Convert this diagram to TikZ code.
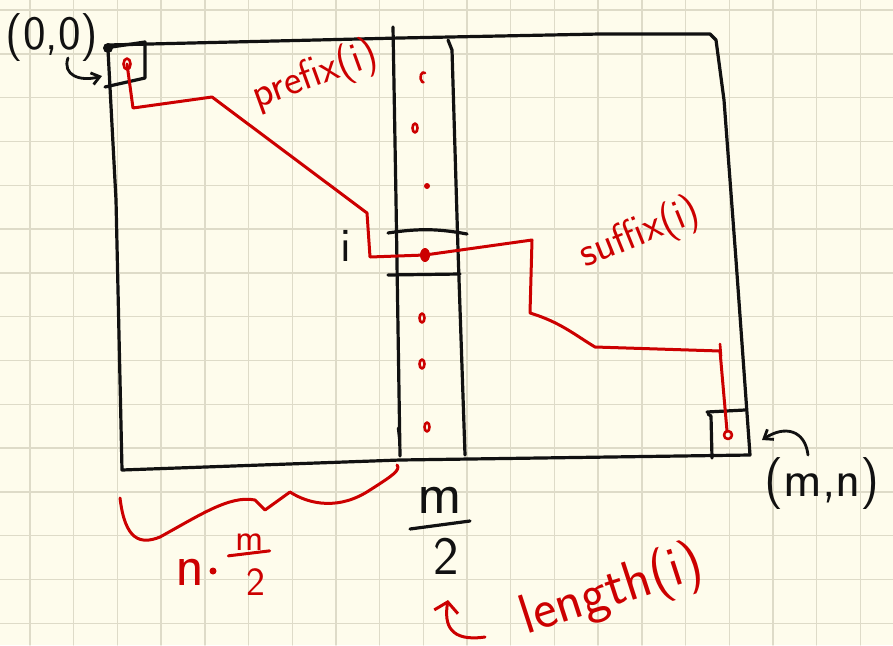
\documentclass[tikz,border=0pt]{standalone}
\usetikzlibrary{arrows.meta,positioning,calc}
\definecolor{inkred}{HTML}{CC0000}
\definecolor{inkblack}{HTML}{111111}
\definecolor{paper}{HTML}{FEFCEC}
\definecolor{gridline}{HTML}{DEDBC8}

\begin{document}
\begin{tikzpicture}[x=1pt,y=-1pt,line cap=round,line join=round]
\fill[paper] (0,0) rectangle (893,645);
\useasboundingbox (0,0) rectangle (893,645);

% paper grid
\foreach \gx in {0,...,19}
  \draw[gridline, line width=1.4pt] ({30+43.7*\gx},0) -- ++(0,645);
\foreach \gy in {0,...,14}
  \draw[gridline, line width=1.4pt] (0,{10+43.8*\gy}) -- ++(893,0);

% the m x n table
\draw[inkblack, line width=3.2pt]
  (108,45) -- (400,38) -- (600,34) -- (710,34) -- (716,40)
  -- (724,100) -- (736,260) -- (750,455)
  -- (400,460) -- (122,470) -- (116,200) -- (108,50);
\draw[inkblack, line width=3.2pt] (105,48) -- (145,42) -- (145,78) -- (105,87);
\fill[inkblack] (108,48) circle (5pt);

% middle column
\draw[inkblack, line width=3.2pt] (393,27) -- (396,200) -- (400,456);
\draw[inkblack, line width=3.2pt] (448,40) -- (452,50) -- (458,250) -- (465,455);
\draw[inkblack, line width=3.2pt] (388,233) .. controls (420,228) and (440,229) .. (467,234);
\draw[inkblack, line width=3.2pt] (388,275) -- (460,274);
\draw[inkblack, line width=2.4pt] (398,428) -- (400,446);

% cells of the column
\draw[inkred, line width=2.6pt] (425,73) arc (60:270:3pt and 5pt);
\foreach \dx/\dy in {415/128, 422/318, 422/364, 427/427}
  \draw[inkred, line width=2.6pt] (\dx,\dy) ellipse (2.5pt and 4.5pt);
\fill[inkred] (427,186) circle (3pt);
\fill[inkred] (425,255) ellipse (5pt and 7pt);

% bottom right cell
\draw[inkblack, line width=3.2pt] (707,412) -- (745,410);
\draw[inkblack, line width=3.2pt] (708,414) -- (711,416) -- (712,458);

% optimal path through cell i
\draw[inkred, line width=3pt]
  (127,64) -- (133,108) -- (212,97) -- (367,213) -- (370,257)
  -- (425,255) -- (532,240) -- (530,313)
  .. controls (560,322) and (575,335) .. (595,347)
  -- (720,351) -- (727,431);
\draw[inkred, line width=2.6pt] (127,64) ellipse (3.5pt and 5.5pt);
\draw[inkred, line width=2.6pt] (728,435) circle (4pt);
\draw[inkred, line width=2.6pt] (720,344) -- (721,356);

% labels
\node[text=inkblack, font=\fontsize{48}{52}\selectfont\sffamily] (origin) at (52,38) {(0,0)};
\node[text=inkblack, font=\fontsize{48}{52}\selectfont\sffamily] (cell) at (346,246) {i};
\node[text=inkblack, font=\fontsize{52}{56}\selectfont\sffamily] (corner) at (822,484) {(m,n)};
\node[text=inkred, rotate=20, font=\fontsize{42}{46}\selectfont\sffamily] (prefix) at (315,76) {prefix(i)};
\node[text=inkred, rotate=22, font=\fontsize{42}{46}\selectfont\sffamily] (suffix) at (640,234) {suffix(i)};
\node[text=inkred, rotate=18, font=\fontsize{56}{60}\selectfont\sffamily] (length) at (612,592) {length(i)};

% n times m/2
\node[text=inkred, font=\fontsize{60}{64}\selectfont\sffamily] (costn) at (190,572) {n};
\fill[inkred] (213,571) circle (3.5pt);
\node[text=inkred, font=\fontsize{38}{42}\selectfont\sffamily] (costm) at (250,542) {m};
\node[text=inkred, font=\fontsize{40}{44}\selectfont\sffamily] (costtwo) at (256,582) {2};
\draw[inkred, line width=3pt] ($(costm.south west)+(-4,2)$) -- ($(costm.south east)+(2,-3)$);

% m/2 width of the column
\node[text=inkblack, font=\fontsize{60}{64}\selectfont\sffamily] (halfm) at (440,500) {m};
\node[text=inkblack, font=\fontsize{54}{58}\selectfont\sffamily] (halftwo) at (446,556) {2};
\draw[inkblack, line width=3.2pt] (410,529) -- (470,521);

% pointers
\coordinate (topbox) at (102,76);
\coordinate (endbox) at (762,440);
\draw[inkblack, line width=2.8pt, -{Straight Barb[length=8pt,width=12pt]}]
  (68,58) .. controls (62,75) and (80,82) .. (topbox);
\draw[inkblack, line width=2.8pt, -{Straight Barb[length=8pt,width=12pt]}]
  (808,455) .. controls (805,430) and (785,425) .. (endbox);

% brace over n times m/2
\draw[inkred, line width=3pt]
  (120,498) .. controls (125,540) and (140,545) .. (160,537)
  .. controls (200,515) and (230,495) .. (255,500) -- (265,510) -- (290,492)
  .. controls (310,505) and (340,510) .. (370,490)
  .. controls (392,476) and (401,470) .. (397,465);

% arrow up to m/2
\coordinate (lenfoot) at (485,637);
\coordinate (lentip) at (448,600);
\draw[inkred, line width=3pt, -{Straight Barb[length=10pt,width=24pt]}]
  (lenfoot) .. controls (450,642) and (444,625) .. (lentip);
\end{tikzpicture}
\end{document}
